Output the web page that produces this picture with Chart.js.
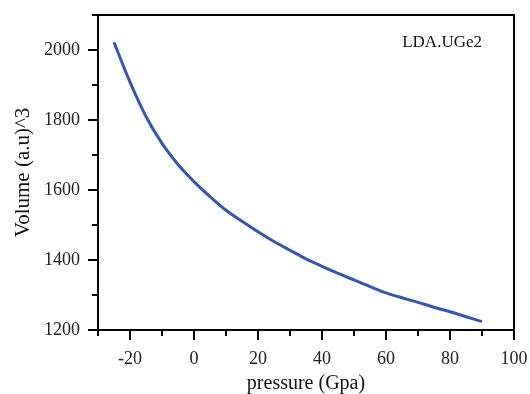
<!DOCTYPE html>
<html>
<head>
<meta charset="utf-8">
<script src="https://cdn.jsdelivr.net/npm/chart.js@4.4.1/dist/chart.umd.min.js"></script>
<style>
  html, body { margin: 0; padding: 0; background: #fff; }
  #wrap { width: 530px; height: 394px; }
</style>
</head>
<body>
<div id="wrap"><canvas id="chart" width="530" height="394"></canvas></div>
<script>
// ── Data ──
const pressure = [-25, -20, -15, -10, -5, 0, 5, 10, 15, 20, 25, 30, 35, 40, 45, 50, 55, 60, 65, 70, 75, 80, 85, 90];
const volume   = [2022, 1908, 1810, 1733, 1673, 1624, 1581, 1542, 1511, 1481, 1453, 1428, 1403, 1382, 1362, 1343, 1324, 1306, 1292, 1279, 1265, 1252, 1238, 1224];
const seriesName = 'LDA.UGe2';

const SERIF = '"Liberation Serif", "DejaVu Serif", serif';
const tickFont = { family: SERIF, size: 18 };

// major = labelled ticks, minor ones get a shorter mark
const isMajorX = v => v % 20 === 0;
const isMajorY = v => v % 200 === 0;

// ── Frame, minor ticks and series label ──
const framePlugin = {
    id: 'frame',
    afterDraw(chart) {
        const { ctx, chartArea: a, scales } = chart;
        ctx.save();
        ctx.strokeStyle = '#000';
        ctx.lineWidth = 2;
        ctx.strokeRect(a.left, a.top, a.right - a.left, a.bottom - a.top);

        // minor ticks
        ctx.beginPath();
        scales.x.ticks.forEach(t => {
            if (isMajorX(t.value)) return;
            const px = scales.x.getPixelForValue(t.value);
            ctx.moveTo(px, a.bottom); ctx.lineTo(px, a.bottom + 6);
        });
        scales.y.ticks.forEach(t => {
            if (isMajorY(t.value)) return;
            const py = scales.y.getPixelForValue(t.value);
            ctx.moveTo(a.left, py); ctx.lineTo(a.left - 6, py);
        });
        ctx.stroke();

        ctx.fillStyle = '#111';
        ctx.font = '17px ' + SERIF;
        ctx.textAlign = 'right';
        ctx.textBaseline = 'middle';
        ctx.fillText(seriesName, a.right - 32, a.top + 28);
        ctx.restore();
    }
};

new Chart(document.getElementById('chart'), {
    type: 'line',
    data: {
        datasets: [{
            label: seriesName,
            data: pressure.map((p, i) => ({ x: p, y: volume[i] })),
            borderColor: '#3556b3',
            borderWidth: 3,
            pointRadius: 0,
            cubicInterpolationMode: 'monotone',
            fill: false
        }]
    },
    options: {
        responsive: false,
        animation: false,
        layout: { padding: { top: 15, right: 16, left: 0, bottom: 0 } },
        plugins: { legend: { display: false }, tooltip: { enabled: false } },
        scales: {
            x: {
                type: 'linear',
                min: -30, max: 100,
                afterFit: s => { s.height = 64; s.paddingLeft = 0; s.paddingRight = 0; },
                border: { display: true, color: '#000', width: 2 },
                grid: {
                    drawOnChartArea: false,
                    tickLength: 10,
                    lineWidth: 2,
                    color: c => (c.tick && isMajorX(c.tick.value)) ? '#000' : 'rgba(0,0,0,0)'
                },
                ticks: {
                    stepSize: 10,
                    autoSkip: false,
                    maxRotation: 0,
                    padding: 8,
                    color: '#222',
                    font: tickFont,
                    callback: v => isMajorX(v) ? String(v) : ''
                },
                title: { display: true, text: 'pressure (Gpa)', color: '#111', font: { family: SERIF, size: 20 }, padding: { top: 0, bottom: -2 } }
            },
            y: {
                min: 1200, max: 2100,
                afterFit: s => { s.width = 98; s.paddingTop = 0; s.paddingBottom = 0; },
                border: { display: true, color: '#000', width: 2 },
                grid: {
                    drawOnChartArea: false,
                    tickLength: 10,
                    lineWidth: 2,
                    color: c => (c.tick && isMajorY(c.tick.value)) ? '#000' : 'rgba(0,0,0,0)'
                },
                ticks: {
                    stepSize: 100,
                    autoSkip: false,
                    padding: 8,
                    color: '#222',
                    font: tickFont,
                    callback: v => isMajorY(v) ? String(v) : ''
                },
                title: { display: true, text: 'Volume (a.u)^3', color: '#111', font: { family: SERIF, size: 21 }, padding: { top: 11, bottom: 0 } }
            }
        }
    },
    plugins: [framePlugin]
});
</script>
</body>
</html>
